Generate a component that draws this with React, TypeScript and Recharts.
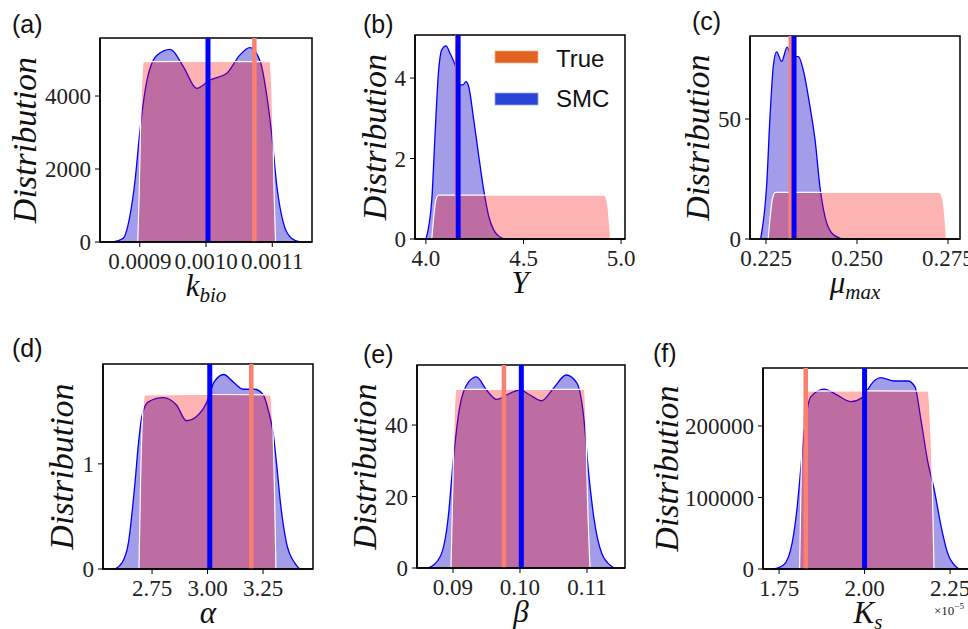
import React from "react";
import {
  ComposedChart,
  Area,
  XAxis,
  YAxis,
  ReferenceLine,
  ReferenceArea,
} from "recharts";

// (a) k_bio
const kbioSmcX = [0.00086, 0.000875, 0.000885, 0.000893, 0.0009, 0.00091, 0.000926, 0.000946, 0.000966, 0.000986, 0.001006, 0.001031, 0.001051, 0.001066, 0.001082, 0.001092, 0.001099, 0.001107, 0.001117, 0.001129, 0.001142];
const kbioSmcY = [0, 100, 700, 1700, 3000, 4350, 5120, 5280, 4800, 4210, 4440, 4620, 5120, 5325, 4940, 3980, 2980, 1520, 510, 100, 0];
const kbioPriorX = [0.000897, 0.000899, 0.000901, 0.000903, 0.000906, 0.001, 0.001096, 0.001099, 0.001101, 0.001103, 0.001105];
const kbioPriorY = [0, 1200, 3000, 4400, 4940, 4950, 4940, 4400, 3000, 1200, 0];
const kbioXTicks = [0.0009, 0.001, 0.0011];
const kbioXLabels = ["0.0009", "0.0010", "0.0011"];
const kbioYTicks = [0, 2000, 4000];

// (b) Y
const ySmcX = [4.0, 4.03, 4.047, 4.064, 4.081, 4.103, 4.124, 4.15, 4.176, 4.19, 4.205, 4.219, 4.245, 4.271, 4.296, 4.322, 4.348, 4.39, 4.405];
const ySmcY = [0, 0.97, 2.63, 4.12, 4.7, 4.8, 4.61, 4.32, 3.83, 3.83, 3.91, 3.79, 2.96, 2.05, 1.22, 0.56, 0.22, 0.02, 0];
const yPriorX = [4.03, 4.04, 4.05, 4.065, 4.5, 4.913, 4.928, 4.938, 4.946];
const yPriorY = [0, 0.55, 0.95, 1.09, 1.09, 1.09, 0.95, 0.55, 0];
const yXTicks = [4.0, 4.5, 5.0];
const yXLabels = ["4.0", "4.5", "5.0"];
const yYTicks = [0, 2, 4];

// (c) mu_max
const muSmcX = [0.2235, 0.2252, 0.2261, 0.227, 0.2279, 0.2293, 0.2308, 0.232, 0.2339, 0.2353, 0.2371, 0.2385, 0.2398, 0.2412, 0.2431, 0.2454, 0.2463];
const muSmcY = [0, 23, 51, 72, 78, 74, 80, 76, 76, 70, 55, 41, 22, 9.3, 2.4, 0.3, 0];
const muPriorX = [0.2256, 0.2262, 0.2268, 0.2276, 0.25, 0.2727, 0.2735, 0.2741, 0.2746];
const muPriorY = [0, 10, 17, 19.4, 19.4, 19.4, 17, 10, 0];
const muXTicks = [0.225, 0.25, 0.275];
const muXLabels = ["0.225", "0.250", "0.275"];
const muYTicks = [0, 50];

// (d) alpha
const alphaSmcX = [2.583, 2.615, 2.643, 2.673, 2.689, 2.704, 2.733, 2.8, 2.86, 2.905, 2.95, 2.995, 3.03, 3.073, 3.115, 3.16, 3.21, 3.25, 3.275, 3.295, 3.311, 3.33, 3.356, 3.394, 3.415];
const alphaSmcY = [0, 0.06, 0.244, 0.816, 1.2, 1.45, 1.59, 1.63, 1.56, 1.41, 1.45, 1.58, 1.78, 1.85, 1.78, 1.71, 1.71, 1.66, 1.5, 1.3, 1.0, 0.6, 0.244, 0.054, 0];
const alphaPriorX = [2.691, 2.698, 2.706, 2.718, 3.0, 3.281, 3.293, 3.301, 3.308];
const alphaPriorY = [0, 0.8, 1.4, 1.657, 1.66, 1.657, 1.4, 0.8, 0];
const alphaXTicks = [2.75, 3.0, 3.25];
const alphaXLabels = ["2.75", "3.00", "3.25"];
const alphaYTicks = [0, 1];

// (e) beta
const betaSmcX = [0.0863, 0.0881, 0.0893, 0.09, 0.091, 0.0923, 0.0935, 0.095, 0.0965, 0.0985, 0.1, 0.1015, 0.1032, 0.105, 0.1069, 0.1085, 0.1095, 0.1102, 0.111, 0.1122, 0.1137, 0.114];
const betaSmcY = [0, 3.2, 14.4, 29.3, 45, 52, 53.5, 49.8, 47.2, 48.9, 49.8, 48.4, 46.8, 50.3, 54, 51.7, 42.3, 27.4, 14.4, 4.1, 0.4, 0];
const betaPriorX = [0.0897, 0.09, 0.0902, 0.0905, 0.1, 0.10955, 0.1098, 0.11, 0.11045];
const betaPriorY = [0, 25, 44, 50, 50, 50, 44, 25, 0];
const betaXTicks = [0.09, 0.1, 0.11];
const betaXLabels = ["0.09", "0.10", "0.11"];
const betaYTicks = [0, 20, 40];

// (f) K_s (x in units of 1e-5)
const ksSmcX = [1.733, 1.763, 1.788, 1.803, 1.813, 1.825, 1.843, 1.882, 1.92, 1.96, 1.99, 2.03, 2.047, 2.087, 2.126, 2.147, 2.165, 2.184, 2.204, 2.224, 2.243, 2.267, 2.277];
const ksSmcY = [0, 5600, 35900, 87000, 138000, 199000, 241000, 251600, 243000, 234000, 238600, 264000, 267500, 262800, 262800, 255000, 208000, 152000, 110000, 59000, 22000, 3300, 0];
const ksPriorX = [1.81, 1.815, 1.82, 1.826, 2.0, 2.185, 2.191, 2.197, 2.203];
const ksPriorY = [0, 140000, 220000, 248800, 249000, 248800, 220000, 140000, 0];
const ksXTicks = [1.75, 2.0, 2.25];
const ksXLabels = ["1.75", "2.00", "2.25"];
const ksYTicks = [0, 100000, 200000];

// true values (salmon) and SMC estimates (blue)
const trueValues = [0.001073, 4.16, 0.2318, 3.197, 0.0976, 1.828];
const smcValues = [0.001003, 4.165, 0.2327, 3.01, 0.1002, 2.0];

const SERIF = "'Liberation Serif', 'DejaVu Serif', serif";
const SANS = "'Liberation Sans', Arial, sans-serif";
const LEFT = 120;
const TOP = 10;
const BOTTOM = 70;
const RIGHT = 40;

type Row = { x: number; smc: number | null; prior: number | null };

function mergeRows(sx: number[], sy: number[], px: number[], py: number[]): Row[] {
  const rows: Row[] = [];
  sx.forEach((x, i) => rows.push({ x, smc: sy[i], prior: null }));
  px.forEach((x, i) => rows.push({ x, smc: null, prior: py[i] }));
  rows.sort((a, b) => a.x - b.x);
  return rows;
}

function YLab({ viewBox, dx }: any) {
  const cx = viewBox.x + viewBox.width - dx;
  const cy = viewBox.y + viewBox.height / 2;
  return (
    <text
      x={cx}
      y={cy}
      transform={`rotate(-90 ${cx} ${cy})`}
      textAnchor="middle"
      dominantBaseline="central"
      fontFamily={SERIF}
      fontStyle="italic"
      fontSize={34}
      fill="#111"
    >
      Distribution
    </text>
  );
}

function XLab({ viewBox, main, sub }: any) {
  const cx = viewBox.x + viewBox.width / 2;
  const y = viewBox.y + 54;
  return (
    <text x={cx} y={y} textAnchor="middle" fontFamily={SERIF} fontStyle="italic" fontSize={31} fill="#111">
      {main}
      {sub && (
        <tspan fontSize={21} dy={6}>
          {sub}
        </tspan>
      )}
    </text>
  );
}

const panels = [
  { box: [100, 38, 212, 204], xDomain: [0.00084, 0.00116], yDomain: [0, 5590], rows: mergeRows(kbioSmcX, kbioSmcY, kbioPriorX, kbioPriorY), xTicks: kbioXTicks, xLabels: kbioXLabels, yTicks: kbioYTicks, main: "k", sub: "bio", yDx: 76 },
  { box: [415, 35, 210, 204], xDomain: [3.944, 5.02], yDomain: [0, 5.07], rows: mergeRows(ySmcX, ySmcY, yPriorX, yPriorY), xTicks: yXTicks, xLabels: yXLabels, yTicks: yYTicks, main: "Y", sub: "", yDx: 41 },
  { box: [750, 36, 210, 203], xDomain: [0.2206, 0.2783], yDomain: [0, 84.6], rows: mergeRows(muSmcX, muSmcY, muPriorX, muPriorY), xTicks: muXTicks, xLabels: muXLabels, yTicks: muYTicks, main: "μ", sub: "max", yDx: 53 },
  { box: [103, 364, 210, 205], xDomain: [2.529, 3.475], yDomain: [0, 1.95], rows: mergeRows(alphaSmcX, alphaSmcY, alphaPriorX, alphaPriorY), xTicks: alphaXTicks, xLabels: alphaXLabels, yTicks: alphaYTicks, main: "α", sub: "", yDx: 42 },
  { box: [417, 365, 208, 203], xDomain: [0.08463, 0.11567], yDomain: [0, 56.8], rows: mergeRows(betaSmcX, betaSmcY, betaPriorX, betaPriorY), xTicks: betaXTicks, xLabels: betaXLabels, yTicks: betaYTicks, main: "β", sub: "", yDx: 53 },
  { box: [763, 368, 210, 201], xDomain: [1.703, 2.317], yDomain: [0, 281000], rows: mergeRows(ksSmcX, ksSmcY, ksPriorX, ksPriorY), xTicks: ksXTicks, xLabels: ksXLabels, yTicks: ksYTicks, main: "K", sub: "s", yDx: 97 },
];

const tickStyle = { fill: "#222", fontSize: 23, fontFamily: SERIF };

function Panel({ p, idx }: any) {
  const [bx, by, bw, bh] = p.box;
  return (
    <div style={{ position: "absolute", left: bx - LEFT, top: by - TOP }}>
      <ComposedChart
        width={bw + LEFT + RIGHT}
        height={bh + TOP + BOTTOM}
        data={p.rows}
        margin={{ top: TOP, right: RIGHT, left: 0, bottom: 0 }}
      >
        <XAxis
          dataKey="x"
          type="number"
          domain={p.xDomain}
          ticks={p.xTicks}
          interval={0}
          allowDataOverflow
          height={BOTTOM}
          tick={tickStyle}
          tickSize={5}
          tickMargin={6}
          tickLine={{ stroke: "#000" }}
          axisLine={{ stroke: "#000", strokeWidth: 1.5 }}
          tickFormatter={(v: number) => p.xLabels[p.xTicks.indexOf(v)] ?? String(v)}
          label={<XLab main={p.main} sub={p.sub} />}
        />
        <YAxis
          type="number"
          domain={p.yDomain}
          ticks={p.yTicks}
          interval={0}
          allowDataOverflow
          width={LEFT}
          tick={tickStyle}
          tickSize={5}
          tickMargin={4}
          tickLine={{ stroke: "#000" }}
          axisLine={{ stroke: "#000", strokeWidth: 1.5 }}
          label={<YLab dx={p.yDx} />}
        />
        <Area
          dataKey="smc"
          type="monotone"
          connectNulls
          stroke="#0000ff"
          strokeWidth={1.3}
          fill="#a29ce9"
          fillOpacity={1}
          dot={false}
          activeDot={false}
          isAnimationActive={false}
        />
        <Area
          dataKey="prior"
          type="monotone"
          connectNulls
          stroke="#ffffff"
          strokeWidth={1.2}
          fill="#ff0000"
          fillOpacity={0.3}
          dot={false}
          activeDot={false}
          isAnimationActive={false}
        />
        <ReferenceLine x={trueValues[idx]} stroke="#fa8072" strokeWidth={4.5} />
        <ReferenceLine x={smcValues[idx]} stroke="#0000ff" strokeWidth={5} />
        <ReferenceArea
          x1={p.xDomain[0]}
          x2={p.xDomain[1]}
          y1={p.yDomain[0]}
          y2={p.yDomain[1]}
          fill="none"
          fillOpacity={0}
          stroke="#000"
          strokeWidth={1.5}
          strokeOpacity={1}
          ifOverflow="visible"
        />
      </ComposedChart>
    </div>
  );
}

const panelLetters = [
  { t: "(a)", x: 12, y: 33 },
  { t: "(b)", x: 363, y: 33 },
  { t: "(c)", x: 692, y: 30 },
  { t: "(d)", x: 12, y: 357 },
  { t: "(e)", x: 363, y: 363 },
  { t: "(f)", x: 653, y: 362 },
];

export default function App() {
  return (
    <div
      style={{
        position: "absolute",
        left: 0,
        top: 0,
        width: 968,
        height: 629,
        overflow: "hidden",
        background: "#fff",
      }}
    >
      {panels.map((p, i) => (
        <Panel key={i} p={p} idx={i} />
      ))}
      <svg width={968} height={629} style={{ position: "absolute", left: 0, top: 0, pointerEvents: "none" }}>
        {panelLetters.map((l) => (
          <text key={l.t} x={l.x} y={l.y} fontFamily={SANS} fontSize={25} fill="#111">
            {l.t}
          </text>
        ))}
        {/* legend in panel (b) */}
        <rect x={495} y={51} width={43} height={12} fill="#e4621f" stroke="#f3b08e" strokeWidth={0.8} />
        <text x={556} y={67} fontFamily={SANS} fontSize={24} fill="#111">True</text>
        <rect x={495} y={93} width={43} height={12} fill="#2945d8" stroke="#9aa6ee" strokeWidth={0.8} />
        <text x={556} y={107} fontFamily={SANS} fontSize={24} fill="#111">SMC</text>
        {/* offset text for K_s axis */}
        <text x={934} y={615} fontFamily={SERIF} fontSize={13} fill="#222">
          ×10<tspan fontSize={9} dy={-6}>−5</tspan>
        </text>
      </svg>
    </div>
  );
}
